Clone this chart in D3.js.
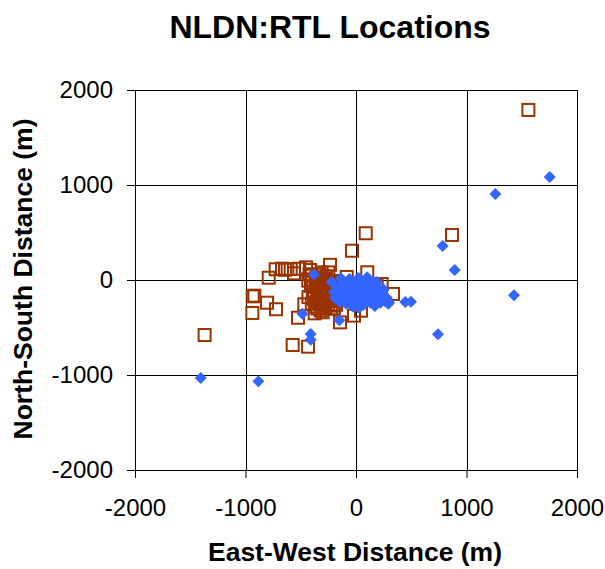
<!DOCTYPE html>
<html>
<head>
<meta charset="utf-8">
<script src="https://cdn.jsdelivr.net/npm/d3@7"></script>
<style>
  body { margin: 0; background: #fff; }
  text { font-family: "Liberation Sans", Arial, sans-serif; }
</style>
</head>
<body>
<div id="chart"></div>
<script>
// tick values for both axes
var xTicks = [-2000, -1000, 0, 1000, 2000];
var yTicks = [-2000, -1000, 0, 1000, 2000];

// open squares (brown series) [east-west, north-south] in metres
var squarePoints = [
    [1560, 1790], [88, 492], [-36, 308], [869, 474], [-1370, -579],
    [-573, -684], [-434, -702], [-935, -172], [-920, -165], [-805, -239],
    [-724, -308], [-938, -347], [-525, -397], [-790, 24], [-727, 113],
    [-670, 119], [-591, 115], [-561, 70], [-513, 119], [-452, 133],
    [-416, 105], [-235, 160], [102, 81], [335, -147], [232, -42],
    [154, -112], [187, -63], [-468, -256], [-374, -351], [-302, -340],
    [-145, -446], [-18, -375], [45, -323], [-407, -60], [-432, -7],
    [-401, 45], [-84, 32], [-643, 108],
    [-420, 60], [-400, -30], [-390, -120], [-380, -200], [-370, -280],
    [-360, 20], [-350, -80], [-340, -160], [-330, -240], [-320, -320],
    [-310, 80], [-300, -40], [-295, -130], [-290, -210], [-280, -290],
    [-270, 40], [-260, -100], [-255, -180], [-250, -250], [-240, -20],
    [-230, -140], [-225, -300], [-220, -60], [-210, -220], [-200, -10],
    [-195, -170], [-190, -110], [-180, -260], [-350, -300], [-400, -250],
    [-430, -180], [-300, 0], [-250, 80], [-200, -300], [-280, -60],
    [-330, 60], [-170, -40], [-160, -200],
    [-365, -50], [-345, -190], [-325, -110], [-315, -20], [-305, -260],
    [-285, -170], [-275, 10], [-265, -220], [-245, -60], [-235, -200],
    [-215, -120], [-205, -270], [-185, -20], [-175, -150], [-360, -230],
    [-310, -190], [-270, -140], [-240, -90], [-390, -70], [-330, -10]
];

// filled diamonds (blue series)
var diamondPoints = [
    [1753, 1084], [1261, 905], [784, 358], [893, 105], [1430, -161],
    [742, -572], [-1405, -1032], [-884, -1067], [-410, -568], [-410, -628],
    [-485, -354], [-151, -424], [-380, 58], [-137, 18], [22, 22],
    [446, -232], [498, -228], [292, -250], [172, -270], [130, -18],
    [-200, -130], [-180, -90], [-160, -170], [-140, -60], [-120, -200],
    [-100, -120], [-90, -250], [-80, -40], [-60, -160], [-50, -220],
    [-40, -100], [-30, -280], [-20, -180], [-10, -60], [0, -140],
    [10, -230], [20, -290], [30, -100], [40, -190], [50, -40],
    [60, -150], [70, -260], [80, -90], [90, -200], [100, -130],
    [110, -20], [120, -170], [130, -240], [140, -80], [150, -190],
    [160, -120], [170, -270], [180, -50], [190, -150], [200, -210],
    [210, -100], [230, -180], [240, -140], [260, -220], [280, -190],
    [300, -240], [-220, -20], [-60, 10], [100, 30], [150, -10],
    [-190, -190], [-130, -140], [-110, -30], [-70, -210], [-20, -120],
    [0, -30], [60, -220], [120, -60], [170, -210], [220, -240],
    [250, -100], [-150, -230], [40, -280], [190, -20]
];

var title = "NLDN:RTL Locations";
var xLabel = "East-West Distance (m)";
var yLabel = "North-South Distance (m)";

var margin = { top: 90, right: 28, bottom: 99, left: 135 },
    width = 605 - margin.left - margin.right,
    height = 569 - margin.top - margin.bottom;

var root = d3.select("#chart")
    .append("svg")
    .attr("width", 605)
    .attr("height", 569);

var svg = root.append("g")
    .attr("transform", "translate(" + margin.left + "," + margin.top + ")");

var x = d3.scaleLinear().domain([-2000, 2000]).range([0, width]);
var y = d3.scaleLinear().domain([-2000, 2000]).range([height, 0]);

// gridlines
svg.append("g")
    .selectAll("line")
    .data(xTicks)
    .enter()
    .append("line")
    .attr("x1", (d) => Math.round(x(d)) + 0.5)
    .attr("x2", (d) => Math.round(x(d)) + 0.5)
    .attr("y1", 0)
    .attr("y2", height)
    .attr("stroke", "#000")
    .attr("stroke-width", 1);

svg.append("g")
    .selectAll("line")
    .data(yTicks)
    .enter()
    .append("line")
    .attr("y1", (d) => Math.round(y(d)) + 0.5)
    .attr("y2", (d) => Math.round(y(d)) + 0.5)
    .attr("x1", 0)
    .attr("x2", width)
    .attr("stroke", "#000")
    .attr("stroke-width", 1);

// axes
var xAxis = svg.append("g")
    .attr("transform", "translate(0," + height + ")")
    .call(d3.axisBottom(x).tickValues(xTicks).tickSize(8).tickPadding(21));

var yAxis = svg.append("g")
    .call(d3.axisLeft(y).tickValues(yTicks).tickSize(8).tickPadding(14));

[xAxis, yAxis].forEach(function (a) {
    a.select(".domain").attr("stroke", "#000");
    a.selectAll(".tick line").attr("stroke", "#000");
    a.selectAll("text")
        .style("font-family", '"Liberation Sans", Arial, sans-serif')
        .style("font-size", "24px")
        .attr("fill", "#000");
});
// plain hyphen for negatives, no thousands separator
svg.selectAll(".tick text").text((d) => String(d));

// squares first, diamonds drawn on top
var sq = 12;
svg.append("g")
    .selectAll("rect")
    .data(squarePoints)
    .enter()
    .append("rect")
    .attr("x", (d) => x(d[0]) - sq / 2)
    .attr("y", (d) => y(d[1]) - sq / 2)
    .attr("width", sq)
    .attr("height", sq)
    .attr("fill", "none")
    .attr("stroke", "#993300")
    .attr("stroke-width", 2);

var diamond = d3.symbol().type(d3.symbolSquare).size(72);
svg.append("g")
    .selectAll("path")
    .data(diamondPoints)
    .enter()
    .append("path")
    .attr("d", diamond)
    .attr("transform", (d) => "translate(" + x(d[0]) + "," + y(d[1]) + ") rotate(45)")
    .attr("fill", "#3366ff");

// title
root.append("text")
    .text(title)
    .attr("x", 330)
    .attr("y", 38)
    .attr("text-anchor", "middle")
    .style("font-size", "32px")
    .style("font-weight", "bold");

// axis titles
root.append("text")
    .text(xLabel)
    .attr("x", 355)
    .attr("y", 561)
    .attr("text-anchor", "middle")
    .style("font-size", "26.5px")
    .style("font-weight", "bold");

root.append("text")
    .text(yLabel)
    .attr("transform", "translate(32,279) rotate(-90)")
    .attr("text-anchor", "middle")
    .style("font-size", "26.5px")
    .style("font-weight", "bold");
</script>
</body>
</html>
